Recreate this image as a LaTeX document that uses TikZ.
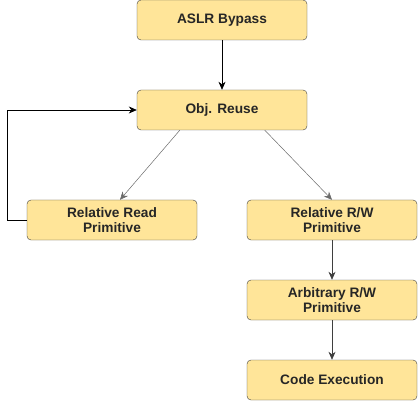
\documentclass[tikz,border=0pt]{standalone}
\usepackage{fontspec}
\setmainfont{Liberation Sans}
\usepackage{xcolor}
\usetikzlibrary{arrows.meta,positioning}
\definecolor{boxfill}{HTML}{FFE599}
\definecolor{boxline}{HTML}{3F3F3F}
\definecolor{linkgray}{HTML}{6B6B6B}

\begin{document}
\begin{tikzpicture}[x=1pt, y=-1pt,
  every node/.style={font=\fontsize{13.7}{15.5}\selectfont\bfseries},
  stage/.style={draw=boxline, fill=boxfill, rounded corners=4pt, text=black!85,
    minimum width=170pt, minimum height=40pt, align=center, inner sep=0pt},
  link/.style={-{Stealth[length=8pt,width=7pt,inset=2.5pt]}, line width=0.7pt}]
\useasboundingbox (0,0) rectangle (418,401);
% main chain
\node[stage] (aslr) at (222,20) {ASLR Bypass};
\node[stage] (reuse) at (222,110) {Obj. Reuse};
\node[stage] (relread) at (112,220) {Relative Read\\Primitive};
\node[stage] (relrw) at (332,220) {Relative R/W\\Primitive};
\node[stage] (arbrw) at (332,300) {Arbitrary R/W\\Primitive};
\node[stage] (code) at (332,380) {Code Execution};
\coordinate (loop) at (7,220);
% connectors
\draw[link] (aslr) -- (reuse);
\draw[link, draw=linkgray, line width=0.5pt] ([xshift=43pt]reuse.south west) -- ([xshift=8pt]relread.north);
\draw[link, draw=linkgray, line width=0.5pt] ([xshift=128pt]reuse.south west) -- (relrw.north);
\draw[link] (relread.west) -- (loop) |- (reuse.west);
\draw[link, draw=boxline] (relrw) -- (arbrw);
\draw[link, draw=boxline] (arbrw) -- (code);
\end{tikzpicture}
\end{document}
